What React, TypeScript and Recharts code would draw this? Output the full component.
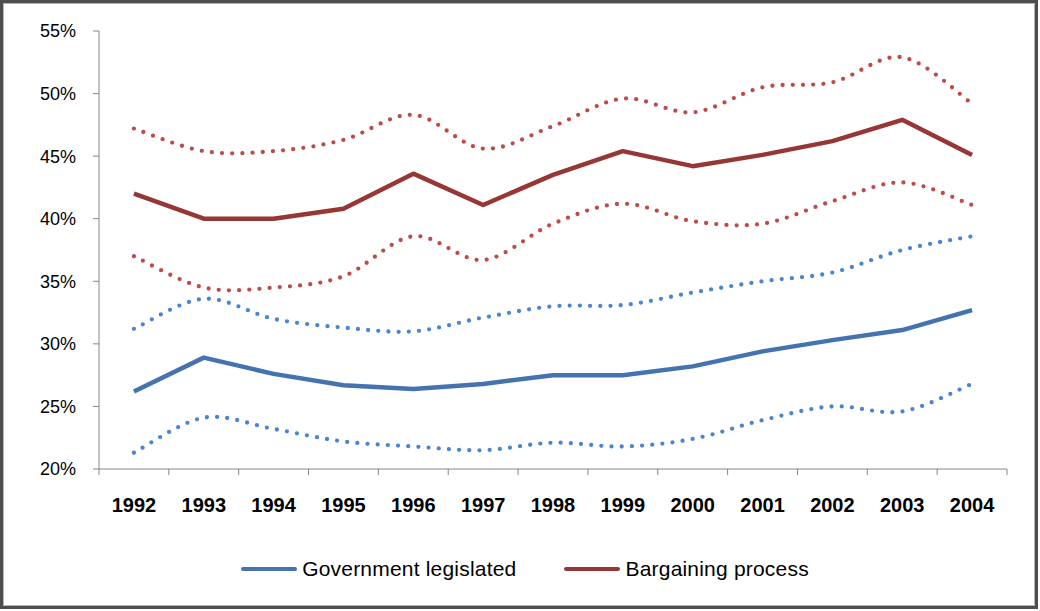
import React from 'react';
import { LineChart, Line, XAxis, YAxis, Legend } from 'recharts';

const years = ['1992', '1993', '1994', '1995', '1996', '1997', '1998', '1999', '2000', '2001', '2002', '2003', '2004'];
const govLegislated = [26.2, 28.9, 27.6, 26.7, 26.4, 26.8, 27.5, 27.5, 28.2, 29.4, 30.3, 31.1, 32.7];
const govUpper = [31.2, 33.6, 32.0, 31.3, 31.0, 32.1, 33.0, 33.1, 34.1, 35.0, 35.7, 37.5, 38.6];
const govLower = [21.3, 24.1, 23.2, 22.2, 21.8, 21.5, 22.1, 21.8, 22.4, 23.9, 25.0, 24.6, 26.8];
const bargaining = [42.0, 40.0, 40.0, 40.8, 43.6, 41.1, 43.5, 45.4, 44.2, 45.1, 46.2, 47.9, 45.1];
const bargUpper = [47.2, 45.4, 45.4, 46.3, 48.3, 45.6, 47.4, 49.6, 48.5, 50.5, 50.9, 52.9, 49.2];
const bargLower = [37.0, 34.5, 34.5, 35.4, 38.6, 36.7, 39.6, 41.2, 39.8, 39.6, 41.4, 42.9, 41.1];
const yTicks = [20, 25, 30, 35, 40, 45, 50, 55];

const data = years.map((year, i) => ({
  x: i + 0.5,
  year,
  gov: govLegislated[i],
  govUp: govUpper[i],
  govLo: govLower[i],
  barg: bargaining[i],
  bargUp: bargUpper[i],
  bargLo: bargLower[i],
}));

const xTicks: number[] = [];
for (let i = 0; i <= years.length; i++) {
  xTicks.push(i);
  if (i < years.length) xTicks.push(i + 0.5);
}

const FONT = '"Liberation Sans", Arial, sans-serif';
const AXIS = '#868686';
const TICK_SIZE = 6;
const TICK_MARGIN = 23;

const BLUE = '#4573B0';
const BLUE_DOT = '#4A84D2';
const RED = '#963735';
const RED_DOT = '#BE4B48';

// Excel-like smoothed curve (Catmull-Rom through points)
const smoothCurve: any = (context: any) => {
  let pts: number[][] = [];
  return {
    areaStart() {},
    areaEnd() {},
    lineStart() {
      pts = [];
    },
    point(x: number, y: number) {
      pts.push([+x, +y]);
    },
    lineEnd() {
      if (!pts.length) return;
      context.moveTo(pts[0][0], pts[0][1]);
      for (let i = 0; i < pts.length - 1; i++) {
        const p0 = pts[i - 1] || pts[i];
        const p1 = pts[i];
        const p2 = pts[i + 1];
        const p3 = pts[i + 2] || pts[i + 1];
        const c1x = p1[0] + (p2[0] - p0[0]) / 6;
        const c1y = p1[1] + (p2[1] - p0[1]) / 6;
        const c2x = p2[0] - (p3[0] - p1[0]) / 6;
        const c2y = p2[1] - (p3[1] - p1[1]) / 6;
        context.bezierCurveTo(c1x, c1y, c2x, c2y, p2[0], p2[1]);
      }
    },
  };
};

const XTick = (props: any) => {
  const { x, y, payload } = props;
  const v = payload.value;
  if (Number.isInteger(v)) {
    return <line x1={x} x2={x} y1={y - TICK_MARGIN - TICK_SIZE} y2={y - TICK_MARGIN} stroke={AXIS} strokeWidth={1} />;
  }
  return (
    <text x={x} y={y} dy="0.71em" textAnchor="middle" fill="#000" fontFamily={FONT} fontSize={20} fontWeight="bold">
      {years[Math.floor(v)]}
    </text>
  );
};

const LegendContent = () => (
  <div
    style={{
      display: 'flex',
      justifyContent: 'center',
      alignItems: 'center',
      fontFamily: FONT,
      fontSize: 21,
      color: '#000',
      gap: 48,
      paddingLeft: 10,
    }}
  >
    <div style={{ display: 'flex', alignItems: 'center' }}>
      <div style={{ width: 56, height: 4, background: BLUE, borderRadius: 2, marginRight: 5 }} />
      <span style={{ letterSpacing: 0.2 }}>Government legislated</span>
    </div>
    <div style={{ display: 'flex', alignItems: 'center' }}>
      <div style={{ width: 56, height: 4, background: RED, borderRadius: 2, marginRight: 5 }} />
      <span style={{ letterSpacing: 0.2 }}>Bargaining process</span>
    </div>
  </div>
);

export default function App() {
  return (
    <div style={{ position: 'absolute', left: 0, top: 0, width: 1040, height: 611, background: '#fff' }}>
      <div
        style={{
          position: 'absolute',
          left: 0,
          top: 0,
          width: 1038,
          height: 609,
          boxSizing: 'border-box',
          border: '3px solid #4d4d4d',
          boxShadow: 'inset 0 0 0 1px #b5b5b5',
        }}
      />
      <div style={{ position: 'absolute', left: 0, top: 0 }}>
        <LineChart width={1040} height={611} data={data} margin={{ top: 31, right: 33, left: 0, bottom: 0 }}>
          <XAxis
            dataKey="x"
            type="number"
            domain={[0, years.length]}
            ticks={xTicks}
            interval={0}
            height={142}
            axisLine={{ stroke: AXIS }}
            tickLine={false}
            tickSize={TICK_SIZE}
            tickMargin={TICK_MARGIN}
            tick={<XTick />}
          />
          <YAxis
            type="number"
            domain={[20, 55]}
            ticks={yTicks}
            interval={0}
            width={99}
            axisLine={{ stroke: AXIS }}
            tickLine={{ stroke: AXIS }}
            tickSize={TICK_SIZE}
            tickMargin={17}
            tickFormatter={(v: number) => `${v}%`}
            tick={{ fill: '#000', fontFamily: FONT, fontSize: 18 }}
          />
          <Legend
            layout="horizontal"
            verticalAlign="middle"
            align="center"
            wrapperStyle={{ left: 0, top: 557, width: 1040, height: 30 }}
            content={<LegendContent />}
          />
          <Line dataKey="bargUp" type={smoothCurve} stroke={RED_DOT} strokeWidth={4.3} strokeDasharray="0 10.2" strokeLinecap="round" dot={false} activeDot={false} isAnimationActive={false} legendType="none" />
          <Line dataKey="bargLo" type={smoothCurve} stroke={RED_DOT} strokeWidth={4.3} strokeDasharray="0 10.2" strokeLinecap="round" dot={false} activeDot={false} isAnimationActive={false} legendType="none" />
          <Line dataKey="govUp" type={smoothCurve} stroke={BLUE_DOT} strokeWidth={4.3} strokeDasharray="0 10.2" strokeLinecap="round" dot={false} activeDot={false} isAnimationActive={false} legendType="none" />
          <Line dataKey="govLo" type={smoothCurve} stroke={BLUE_DOT} strokeWidth={4.3} strokeDasharray="0 10.2" strokeLinecap="round" dot={false} activeDot={false} isAnimationActive={false} legendType="none" />
          <Line dataKey="gov" name="Government legislated" type="linear" stroke={BLUE} strokeWidth={4.5} strokeLinejoin="round" dot={false} activeDot={false} isAnimationActive={false} />
          <Line dataKey="barg" name="Bargaining process" type="linear" stroke={RED} strokeWidth={4.5} strokeLinejoin="round" dot={false} activeDot={false} isAnimationActive={false} />
        </LineChart>
      </div>
    </div>
  );
}
